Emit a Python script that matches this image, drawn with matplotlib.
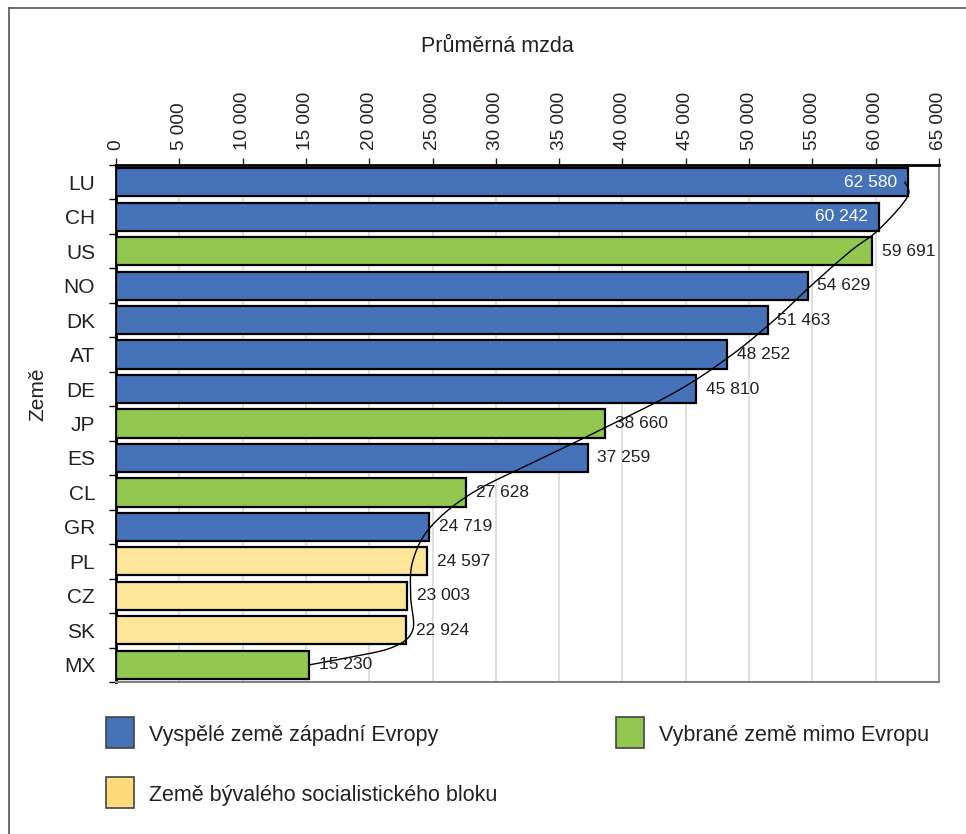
import numpy as np
import matplotlib.pyplot as plt
from matplotlib.patches import Rectangle
from matplotlib.lines import Line2D

plt.rcParams['font.family'] = ['Liberation Sans', 'DejaVu Sans']

# Average wage by country
countries = ['LU', 'CH', 'US', 'NO', 'DK', 'AT', 'DE', 'JP', 'ES', 'CL', 'GR', 'PL', 'CZ', 'SK', 'MX']
wages = [62580, 60242, 59691, 54629, 51463, 48252, 45810, 38660, 37259, 27628, 24719, 24597, 23003, 22924, 15230]
groups = ['W', 'W', 'O', 'W', 'W', 'W', 'W', 'O', 'W', 'O', 'W', 'S', 'S', 'S', 'O']

# Hand-drawn trend curve: row position -> wage
curve_rows = [0, 0.43, 1.39, 2, 3, 4, 5, 6, 7, 8, 9, 10, 11, 12, 13, 13.5, 13.8, 14]
curve_values = [62300, 62500, 60200, 58000, 54900, 51990, 48670, 44600, 39300, 33700, 28200,
                24850, 23430, 23270, 23430, 21800, 18200, 15300]

group_order = ['W', 'O', 'S']
group_names = {
    'W': 'Vyspělé země západní Evropy',
    'O': 'Vybrané země mimo Evropu',
    'S': 'Země bývalého socialistického bloku',
}
bar_colors = {'W': '#4672B9', 'O': '#92C850', 'S': '#FDE69A'}
legend_colors = {'W': '#4672B9', 'O': '#92C850', 'S': '#FFDA7A'}

W, H = 966, 834


def fmt(v):
    return f'{v:,}'.replace(',', ' ')


def smooth_curve(x, y, n=30):
    """Catmull-Rom spline through the points."""
    pts = np.column_stack([x, y]).astype(float)
    p = np.vstack([pts[0], pts, pts[-1]])
    out = []
    t = np.linspace(0, 1, n)[:, None]
    for i in range(1, len(p) - 2):
        p0, p1, p2, p3 = p[i - 1], p[i], p[i + 1], p[i + 2]
        c1 = p1 + (p2 - p0) / 6
        c2 = p2 - (p3 - p1) / 6
        seg = ((1 - t) ** 3) * p1 + 3 * ((1 - t) ** 2) * t * c1 + 3 * (1 - t) * t ** 2 * c2 + t ** 3 * p2
        out.append(seg)
    out = np.vstack(out)
    return out[:, 0], out[:, 1]


def fx(px):
    return px / W


def fy(py):
    return 1 - py / H


fig = plt.figure(figsize=(W / 100, H / 100), dpi=100)
ax = fig.add_axes([fx(116), fy(682), (939 - 116) / W, (682 - 165) / H])

ypos = np.arange(len(countries))
ax.barh(ypos, wages, height=0.82, color=[bar_colors[g] for g in groups],
        edgecolor='black', linewidth=1.6, zorder=3)

cx, cy = smooth_curve(curve_values, curve_rows)
ax.plot(cx, cy, color='black', linewidth=1.0, zorder=4)

# Value labels
for y, v in zip(ypos, wages):
    if v > 60000:
        ax.annotate(fmt(v), (v, y), xytext=(-8, 0), textcoords='offset points',
                    ha='right', va='center', fontsize=12.5, color='white', zorder=5)
    else:
        ax.annotate(fmt(v), (v, y), xytext=(7, 0), textcoords='offset points',
                    ha='left', va='center', fontsize=12.5, color='#222222', zorder=5)

ax.set_xlim(0, 65000)
ax.set_ylim(len(countries) - 0.5, -0.5)
ax.xaxis.tick_top()
ax.set_xticks(np.arange(0, 65001, 5000))
ax.set_xticklabels([fmt(v) for v in range(0, 65001, 5000)], rotation=90, fontsize=13.7, color='#222222')
ax.tick_params(axis='x', direction='out', length=5, width=1, pad=6, colors='#222222')
ax.grid(axis='x', color='#d9d9d9', linewidth=1.2, zorder=0)

ax.set_yticks(ypos)
ax.set_yticklabels(countries, fontsize=15, color='#222222')
ax.set_yticks(np.arange(-0.5, len(countries), 1), minor=True)
ax.tick_params(axis='y', which='major', length=0, pad=15)
ax.tick_params(axis='y', which='minor', direction='out', length=5, width=1)

ax.spines['top'].set_linewidth(2)
ax.spines['top'].set_color('black')
ax.spines['left'].set_linewidth(2)
ax.spines['left'].set_color('black')
ax.spines['right'].set_color('#808080')
ax.spines['right'].set_linewidth(1.2)
ax.spines['bottom'].set_color('#808080')
ax.spines['bottom'].set_linewidth(1.5)

fig.text(fx(497), fy(46), 'Průměrná mzda', ha='center', va='center', fontsize=15.5, color='#222222')
fig.text(fx(38), fy(394), 'Země', ha='center', va='center', rotation=90, fontsize=15, color='#222222')

# Legend: colour boxes with labels
legend_slots = {'W': (106, 717), 'O': (616, 717), 'S': (106, 777)}
for k in group_order:
    x0, y0 = legend_slots[k]
    fig.add_artist(Rectangle((fx(x0), fy(y0 + 31)), 28 / W, 31 / H, transform=fig.transFigure,
                             facecolor=legend_colors[k], edgecolor='#444444', linewidth=1.2))
    fig.text(fx(x0 + 43), fy(y0 + 18), group_names[k], ha='left', va='center',
             fontsize=15.5, color='#222222')

# Outer frame (left and top edges)
fig.add_artist(Line2D([fx(9), fx(9)], [0, fy(8)], transform=fig.transFigure, color='#555555', linewidth=1.2))
fig.add_artist(Line2D([fx(9), 1], [fy(8), fy(8)], transform=fig.transFigure, color='#555555', linewidth=1.2))

fig.savefig('out.png', dpi=100)
